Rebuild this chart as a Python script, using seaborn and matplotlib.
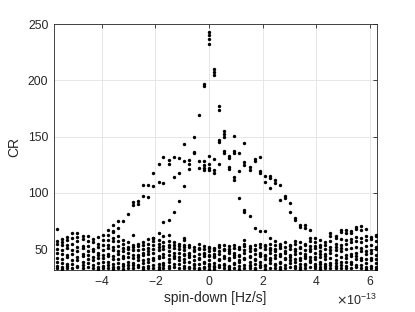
import numpy as np
import pandas as pd
import matplotlib
matplotlib.use("Agg")
import matplotlib.pyplot as plt
import seaborn as sns
from matplotlib.ticker import ScalarFormatter

SCALE = 1e-13

# spin-down grid columns (units of 1e-13 Hz/s)
band_x = [-5.65, -5.46, -5.28, -5.09, -4.90, -4.71, -4.52, -4.33, -4.14, -3.96,
          -3.77, -3.58, -3.39, -3.20, -3.01, -2.83, -2.64, -2.45, -2.26, -2.07,
          -1.88, -1.70, -1.51, -1.32, -1.13, -0.94, -0.75, -0.57, -0.38, -0.19,
          0.00, 0.19, 0.38, 0.57, 0.75, 0.94, 1.13, 1.32, 1.51, 1.70,
          1.88, 2.07, 2.26, 2.45, 2.64, 2.83, 3.01, 3.20, 3.39, 3.58,
          3.77, 3.96, 4.14, 4.33, 4.52, 4.71, 4.90, 5.09, 5.28, 5.46,
          5.65, 5.84, 6.03, 6.22]

# CR values of the low background band, one list per column
band_cr = [
    [68, 57, 55, 50, 47, 42, 39, 35, 33],
    [59, 56, 54, 49, 46, 41, 38, 34, 32],
    [61, 58, 54, 51, 45, 43, 37, 35, 33],
    [64, 60, 55, 49, 46, 40, 37, 33],
    [64, 61, 57, 52, 48, 43, 40, 35, 34],
    [62, 59, 53, 51, 46, 44, 39, 36, 33],
    [62, 57, 53, 48, 45, 41, 38, 34],
    [59, 56, 50, 48, 43, 40, 36, 33],
    [61, 55, 52, 47, 45, 42, 38, 34, 32],
    [63, 58, 54, 49, 45, 42, 39, 35, 33],
    [63, 58, 54, 51, 46, 44, 39, 36, 33],
    [66, 60, 57, 52, 49, 44, 41, 37, 34, 32],
    [62, 57, 53, 48, 46, 41, 38, 34, 33],
    [58, 55, 51, 48, 44, 42, 37, 35, 32],
    [56, 52, 50, 47, 43, 39, 36, 33],
    [54, 52, 49, 45, 42, 38, 36, 33],
    [55, 53, 49, 45, 43, 40, 36, 34],
    [56, 54, 50, 47, 45, 40, 38, 34, 32],
    [59, 55, 51, 48, 46, 41, 39, 35, 33],
    [60, 57, 54, 50, 47, 42, 40, 36, 33],
    [58, 55, 52, 49, 44, 42, 37, 34, 32],
    [62, 56, 53, 50, 46, 43, 38, 36, 33],
    [57, 54, 52, 48, 45, 41, 39, 35, 33],
    [56, 54, 51, 47, 44, 42, 37, 34],
    [55, 53, 50, 47, 43, 40, 37, 33],
    [54, 52, 49, 46, 45, 41, 39, 35, 33],
    [54, 52, 47, 45, 43, 39, 34, 33],
    [52, 49, 48, 44, 40, 37, 36, 33],
    [55, 51, 50, 46, 42, 41, 37, 33, 32],
    [53, 50, 47, 46, 44, 39, 38, 34, 33],
    [52, 51, 48, 45, 44, 40, 37, 35, 32],
    [51, 49, 46, 44, 43, 38, 35, 34, 32],
    [54, 52, 48, 46, 41, 40, 36, 34],
    [54, 50, 49, 44, 42, 37, 36, 33],
    [53, 50, 48, 47, 42, 40, 35, 34, 32],
    [54, 51, 47, 45, 43, 38, 37, 33],
    [52, 50, 45, 44, 40, 39, 35, 32],
    [55, 53, 49, 47, 42, 41, 36, 33],
    [53, 51, 48, 44, 43, 39, 36, 35, 33],
    [54, 50, 49, 46, 41, 40, 37, 33, 32],
    [55, 52, 47, 46, 44, 39, 36, 34],
    [54, 53, 50, 45, 44, 41, 36, 35, 32],
    [55, 51, 49, 47, 42, 40, 38, 33],
    [57, 54, 50, 48, 45, 42, 37, 36, 33],
    [55, 53, 51, 46, 44, 39, 38, 34, 32],
    [56, 52, 48, 47, 42, 41, 36, 33],
    [54, 53, 50, 45, 43, 40, 38, 34],
    [57, 55, 50, 48, 46, 41, 39, 35, 33],
    [56, 52, 51, 47, 42, 40, 37, 34, 32],
    [55, 54, 49, 46, 44, 42, 37, 36, 33],
    [57, 53, 50, 48, 43, 40, 39, 34],
    [60, 56, 53, 51, 47, 43, 41, 37, 35, 33],
    [58, 54, 52, 48, 46, 43, 39, 37, 34, 32],
    [56, 54, 50, 46, 44, 41, 37, 35, 33],
    [64, 62, 57, 52, 49, 47, 42, 38, 36, 33],
    [62, 60, 55, 52, 49, 45, 40, 38, 35, 33],
    [67, 65, 59, 54, 51, 48, 43, 39, 36, 33],
    [67, 64, 58, 55, 50, 45, 42, 39, 35, 33],
    [66, 64, 59, 56, 51, 46, 44, 39, 37, 33],
    [70, 68, 61, 57, 52, 47, 44, 41, 36, 34],
    [71, 67, 60, 56, 51, 48, 42, 40, 36, 33],
    [68, 62, 58, 53, 48, 46, 41, 38, 34, 32],
    [61, 59, 54, 49, 47, 42, 40, 35, 33],
    [63, 62, 57, 52, 50, 45, 41, 38, 34, 32],
]

# candidate ridges above the background (spin-down, CR)
ridge_x = [-3.77, -3.58, -3.39, -3.20, -3.01, -2.83, -2.83, -2.64, -2.64, -2.45,
           -2.45, -2.26, -2.26, -2.07, -2.07, -1.88, -1.88, -1.70, -1.70, -1.51,
           -1.51, -1.32, -1.32, -1.13, -1.13, -1.13, -0.94, -0.94, -0.94, -0.75,
           -0.75, -0.75, -0.57, -0.57, -0.57, -0.38, -0.38, -0.38, -0.19, -0.19,
           -0.19, -0.19, -0.19, -0.19, 0.00, 0.00, 0.00, 0.00, 0.00, 0.00,
           0.00, 0.00, 0.19, 0.19, 0.19, 0.19, 0.19, 0.19, 0.38, 0.38,
           0.38, 0.38, 0.38, 0.57, 0.57, 0.57, 0.57, 0.57, 0.75, 0.75,
           0.75, 0.75, 0.94, 0.94, 0.94, 0.94, 0.94, 1.13, 1.13, 1.13,
           1.32, 1.32, 1.32, 1.32, 1.32, 1.32, 1.51, 1.51, 1.51, 1.70,
           1.70, 1.70, 1.88, 1.88, 1.88, 1.88, 2.07, 2.07, 2.07, 2.26,
           2.26, 2.26, 2.26, 2.45, 2.45, 2.64, 2.64, 2.83, 2.83, 3.01,
           3.01, 3.20, 3.20, 3.39, 3.39, 3.58, 3.58, 3.77, 3.77,
           -1.32, -1.51, -1.70, -1.88, -2.07, -1.51, -0.94, -0.94, -2.83, -3.39,
           -3.58]
ridge_cr = [67, 71.6, 74.6, 75, 81.6, 89, 92, 92.5, 90.5, 97.6,
            107, 107, 96.7, 106, 117.5, 110, 126, 132, 108.6, 129,
            126, 132, 114.5, 131, 117.5, 93, 143.5, 128, 106.5, 129.3,
            126, 121, 150, 136.7, 135, 169, 128, 122.5, 196.5, 195,
            128, 125, 122.5, 120, 243, 240, 237, 232, 133, 126,
            122, 120, 210, 207, 205, 130.5, 120, 118, 177, 174,
            147, 145, 126, 155, 152, 150, 137.6, 135.5, 132.8, 131,
            122.8, 121, 150.6, 137, 135, 113.9, 111.5, 135.8, 119, 95.3,
            144.7, 127, 125, 85, 83, 58, 123.4, 120.5, 79.6, 130,
            128, 68.6, 132, 119.5, 117.5, 65.7, 115.4, 110, 65.7, 115.4,
            113, 104, 59.8, 111, 108.5, 107, 93.8, 97.3, 95.3, 90.8,
            83, 77.5, 76, 71.6, 70, 71.6, 69, 66.6, 59.8,
            83.4, 76, 74.5, 64, 60, 62.7, 60.3, 58, 63, 69,
            65]

x_ticks = [-4, -2, 0, 2, 4, 6]
y_ticks = [50, 100, 150, 200, 250]

xs = [x for x, col in zip(band_x, band_cr) for _ in col] + ridge_x
ys = [v for col in band_cr for v in col] + ridge_cr
df = pd.DataFrame({"spin": np.array(xs) * SCALE, "CR": ys})

sns.set_style("whitegrid")
plt.rcParams['font.family'] = ['Liberation Sans', 'DejaVu Sans']
plt.rcParams['axes.unicode_minus'] = False

fig = plt.figure(figsize=(4.15, 3.12), dpi=100)
ax = fig.add_axes([0.130, 0.135, 0.778, 0.788])
sns.scatterplot(data=df, x="spin", y="CR", color="black", s=6,
                linewidth=0, marker="o", ax=ax, zorder=3)

ax.set_xlim(-5.776 * SCALE, 6.248 * SCALE)
ax.set_ylim(31.6, 250)
ax.set_xticks([t * SCALE for t in x_ticks])
ax.set_yticks(y_ticks)
fmt = ScalarFormatter(useMathText=True)
fmt.set_powerlimits((0, 0))
ax.xaxis.set_major_formatter(fmt)

dark = "#262626"
ax.grid(True, color="#e3e3e3", linewidth=0.6)
for sp in ax.spines.values():
    sp.set_color(dark)
    sp.set_linewidth(0.6)
    sp.set_visible(True)
ax.tick_params(direction="in", length=3, width=0.6, colors=dark,
               top=True, right=True, labelsize=8.8, pad=4)
ax.xaxis.get_offset_text().set_fontsize(9)
ax.xaxis.get_offset_text().set_color(dark)
ax.set_xlabel("spin-down [Hz/s]", fontsize=10, color=dark, labelpad=2)
ax.set_ylabel("CR", fontsize=10, color=dark, labelpad=5)

fig.savefig("out.png", dpi=100, facecolor="white")
